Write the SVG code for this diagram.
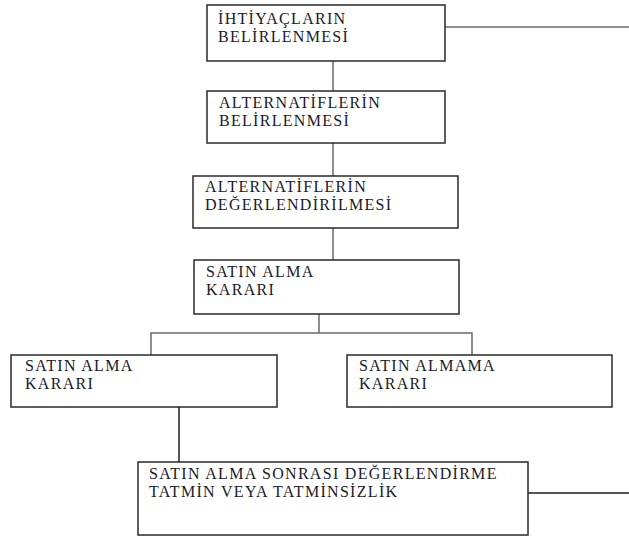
<svg xmlns="http://www.w3.org/2000/svg" width="629" height="536" viewBox="0 0 629 536">
<style>
.box{fill:#fff;stroke:#2a2a2a;stroke-width:1.5}
.lbl{font-family:"Liberation Serif","Times New Roman",serif;font-size:16px;letter-spacing:1.3px;fill:#1a1a2a}
.con{fill:none;stroke:#6a6a6a;stroke-width:1.5}
.conk{fill:none;stroke:#1a1a1a;stroke-width:1.5}
</style>
<rect width="629" height="536" fill="#fff"/>
<g id="connectors">
<path class="con" d="M445 27H629"/>
<path class="con" d="M333 61V91"/>
<path class="con" d="M333 143V176"/>
<path class="con" d="M333 228V260"/>
<path class="con" d="M319 314V333M151 355V333H472V355"/>
<path class="conk" d="M179 407V462"/>
<path class="conk" d="M528 493H629"/>
</g>
<g id="n1"><rect class="box" x="207" y="5" width="238" height="56"/>
<text class="lbl" x="218" y="24">İHTİYAÇLARIN</text><text class="lbl" x="218" y="42">BELİRLENMESİ</text></g>
<g id="n2"><rect class="box" x="207" y="91" width="238" height="52"/>
<text class="lbl" x="219" y="108">ALTERNATİFLERİN</text><text class="lbl" x="219" y="126">BELİRLENMESİ</text></g>
<g id="n3"><rect class="box" x="193" y="176" width="265" height="52"/>
<text class="lbl" x="205" y="192">ALTERNATİFLERİN</text><text class="lbl" x="205" y="210">DEĞERLENDİRİLMESİ</text></g>
<g id="n4"><rect class="box" x="194" y="260" width="265" height="54"/>
<text class="lbl" x="206" y="277">SATIN ALMA</text><text class="lbl" x="206" y="295">KARARI</text></g>
<g id="n5"><rect class="box" x="11" y="355" width="266" height="52"/>
<text class="lbl" x="25" y="371">SATIN ALMA</text><text class="lbl" x="25" y="389">KARARI</text></g>
<g id="n6"><rect class="box" x="347" y="355" width="265" height="52"/>
<text class="lbl" x="359" y="371">SATIN ALMAMA</text><text class="lbl" x="359" y="389">KARARI</text></g>
<g id="n7"><rect class="box" x="138" y="462" width="390" height="73"/>
<text class="lbl" x="149" y="479">SATIN ALMA SONRASI DEĞERLENDİRME</text><text class="lbl" x="149" y="497">TATMİN VEYA TATMİNSİZLİK</text></g>
</svg>
